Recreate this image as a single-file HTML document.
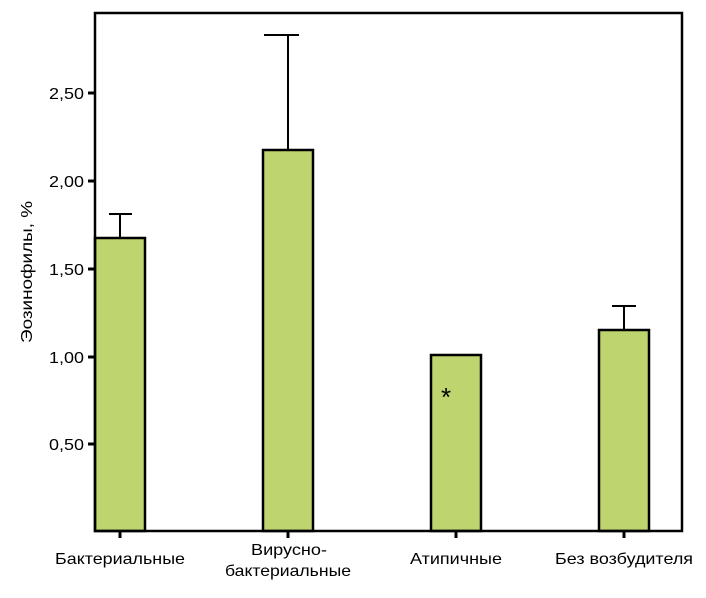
<!DOCTYPE html>
<html><head><meta charset="utf-8"><style>body{margin:0;background:#fff}</style></head><body>
<svg width="706" height="593" xmlns="http://www.w3.org/2000/svg" font-family="Liberation Sans, Arial, sans-serif" font-size="16" fill="#000">
<g stroke="#000" stroke-width="2.5" fill="#bdd46f">
<rect x="95" y="238" width="50" height="293"/>
<rect x="263" y="150" width="50" height="381"/>
<rect x="431" y="355" width="50" height="176"/>
<rect x="599" y="330" width="50" height="201"/>
</g>
<g stroke="#000" stroke-width="2" fill="none">
<line x1="120" y1="238" x2="120" y2="214"/><line x1="109" y1="214" x2="132" y2="214"/>
<line x1="288" y1="150" x2="288" y2="35"/><line x1="264" y1="35" x2="299" y2="35"/>
<line x1="624" y1="330" x2="624" y2="306"/><line x1="612" y1="306" x2="636" y2="306"/>
<rect x="95" y="13" width="587" height="518" stroke-width="2.5"/>
</g>
<g stroke="#000" stroke-width="3">
<line x1="88" y1="93" x2="95" y2="93"/><line x1="88" y1="181" x2="95" y2="181"/>
<line x1="88" y1="269" x2="95" y2="269"/><line x1="88" y1="357" x2="95" y2="357"/>
<line x1="88" y1="444" x2="95" y2="444"/>
<line x1="120" y1="531" x2="120" y2="538"/><line x1="288" y1="531" x2="288" y2="538"/>
<line x1="456" y1="531" x2="456" y2="538"/><line x1="624" y1="531" x2="624" y2="538"/>
</g>
<g text-anchor="end">
<text x="84" y="99" textLength="35" lengthAdjust="spacingAndGlyphs">2,50</text><text x="84" y="187" textLength="35" lengthAdjust="spacingAndGlyphs">2,00</text><text x="84" y="275" textLength="35" lengthAdjust="spacingAndGlyphs">1,50</text>
<text x="84" y="363" textLength="35" lengthAdjust="spacingAndGlyphs">1,00</text><text x="84" y="450" textLength="35" lengthAdjust="spacingAndGlyphs">0,50</text>
</g>
<text transform="translate(32,272) rotate(-90)" text-anchor="middle" textLength="142" lengthAdjust="spacingAndGlyphs">Эозинофилы, %</text>
<g text-anchor="middle" lengthAdjust="spacingAndGlyphs">
<text x="120" y="564" textLength="130" lengthAdjust="spacingAndGlyphs">Бактериальные</text>
<text x="289" y="555" textLength="76" lengthAdjust="spacingAndGlyphs">Вирусно-</text><text x="288" y="576" textLength="126" lengthAdjust="spacingAndGlyphs">бактериальные</text>
<text x="456" y="564" textLength="92" lengthAdjust="spacingAndGlyphs">Атипичные</text>
<text x="624" y="564" textLength="138" lengthAdjust="spacingAndGlyphs">Без возбудителя</text>
</g>
<text x="446" y="406" text-anchor="middle" font-size="26">*</text>
</svg>
</body></html>
